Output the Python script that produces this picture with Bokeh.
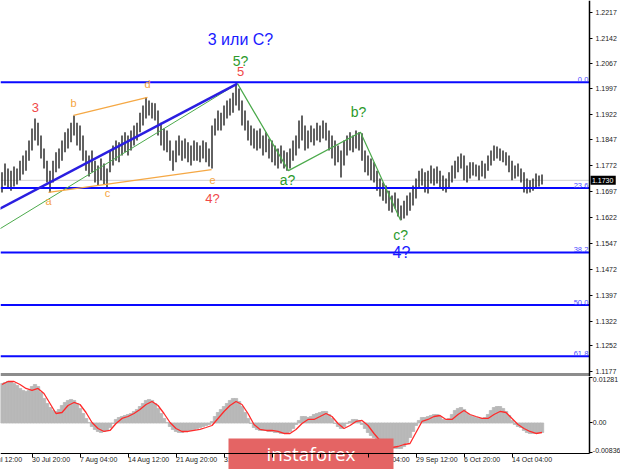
from bokeh.plotting import figure
from bokeh.models import Range1d, FixedTicker, LinearAxis
from bokeh.layouts import column
from bokeh.embed import file_html
from bokeh.resources import INLINE
from bokeh.core.properties import value

# ---------------- data ----------------
high = [
    1.1753, 1.1779, 1.1764, 1.1758, 1.1770, 1.1764, 1.1787, 1.1802, 1.1816, 1.1845,
    1.1880, 1.1909, 1.1897, 1.1860, 1.1822, 1.1787, 1.1758, 1.1787, 1.1811, 1.1822,
    1.1845, 1.1869, 1.1880, 1.1897, 1.1918, 1.1897, 1.1889, 1.1860, 1.1816, 1.1802,
    1.1816, 1.1787, 1.1773, 1.1793, 1.1779, 1.1764, 1.1816, 1.1831, 1.1845, 1.1840,
    1.1860, 1.1869, 1.1860, 1.1874, 1.1889, 1.1897, 1.1926, 1.1947, 1.1970, 1.1961,
    1.1955, 1.1953, 1.1932, 1.1897, 1.1880, 1.1874, 1.1845, 1.1816, 1.1845, 1.1860,
    1.1845, 1.1851, 1.1840, 1.1831, 1.1845, 1.1840, 1.1831, 1.1845, 1.1840, 1.1822,
    1.1889, 1.1909, 1.1932, 1.1926, 1.1947, 1.1961, 1.1967, 1.1984, 1.2010, 1.1996,
    1.1961, 1.1932, 1.1903, 1.1889, 1.1880, 1.1874, 1.1880, 1.1860, 1.1869, 1.1851,
    1.1845, 1.1831, 1.1822, 1.1831, 1.1816, 1.1811, 1.1822, 1.1845, 1.1860, 1.1903,
    1.1918, 1.1889, 1.1874, 1.1889, 1.1880, 1.1897, 1.1889, 1.1903, 1.1897, 1.1874,
    1.1860, 1.1845, 1.1831, 1.1816, 1.1845, 1.1860, 1.1869, 1.1860, 1.1874, 1.1869,
    1.1866, 1.1816, 1.1802, 1.1793, 1.1782, 1.1758, 1.1735, 1.1724, 1.1715, 1.1700,
    1.1686, 1.1695, 1.1677, 1.1657, 1.1671, 1.1686, 1.1695, 1.1715, 1.1735, 1.1758,
    1.1764, 1.1753, 1.1758, 1.1773, 1.1764, 1.1770, 1.1758, 1.1744, 1.1735, 1.1753,
    1.1773, 1.1787, 1.1799, 1.1808, 1.1802, 1.1773, 1.1782, 1.1782, 1.1776, 1.1773,
    1.1787, 1.1779, 1.1802, 1.1816, 1.1831, 1.1828, 1.1822, 1.1816, 1.1811, 1.1802,
    1.1787, 1.1773, 1.1779, 1.1764, 1.1753, 1.1735, 1.1730, 1.1735, 1.1750, 1.1744,
    1.1747,
]
low = [
    1.1695, 1.1715, 1.1706, 1.1700, 1.1712, 1.1718, 1.1730, 1.1747, 1.1758, 1.1787,
    1.1816, 1.1845, 1.1831, 1.1793, 1.1764, 1.1724, 1.1695, 1.1724, 1.1753, 1.1764,
    1.1787, 1.1811, 1.1822, 1.1840, 1.1860, 1.1831, 1.1816, 1.1787, 1.1758, 1.1741,
    1.1753, 1.1724, 1.1715, 1.1730, 1.1718, 1.1706, 1.1753, 1.1773, 1.1787, 1.1782,
    1.1802, 1.1811, 1.1802, 1.1816, 1.1831, 1.1845, 1.1869, 1.1889, 1.1909, 1.1918,
    1.1909, 1.1903, 1.1860, 1.1831, 1.1816, 1.1811, 1.1787, 1.1758, 1.1782, 1.1802,
    1.1787, 1.1793, 1.1782, 1.1773, 1.1787, 1.1787, 1.1782, 1.1793, 1.1782, 1.1770,
    1.1764, 1.1860, 1.1874, 1.1874, 1.1889, 1.1909, 1.1918, 1.1926, 1.1947, 1.1932,
    1.1889, 1.1874, 1.1845, 1.1831, 1.1822, 1.1816, 1.1822, 1.1802, 1.1811, 1.1793,
    1.1782, 1.1773, 1.1764, 1.1779, 1.1764, 1.1758, 1.1764, 1.1787, 1.1802, 1.1822,
    1.1845, 1.1816, 1.1822, 1.1840, 1.1831, 1.1845, 1.1840, 1.1851, 1.1845, 1.1816,
    1.1793, 1.1773, 1.1782, 1.1738, 1.1773, 1.1802, 1.1816, 1.1811, 1.1822, 1.1816,
    1.1787, 1.1753, 1.1744, 1.1730, 1.1724, 1.1700, 1.1683, 1.1671, 1.1663, 1.1642,
    1.1637, 1.1648, 1.1625, 1.1614, 1.1619, 1.1628, 1.1642, 1.1657, 1.1677, 1.1706,
    1.1715, 1.1695, 1.1692, 1.1721, 1.1715, 1.1721, 1.1706, 1.1700, 1.1695, 1.1706,
    1.1724, 1.1735, 1.1753, 1.1764, 1.1730, 1.1724, 1.1735, 1.1744, 1.1741, 1.1730,
    1.1741, 1.1735, 1.1758, 1.1773, 1.1787, 1.1793, 1.1787, 1.1782, 1.1773, 1.1753,
    1.1730, 1.1735, 1.1741, 1.1724, 1.1695, 1.1692, 1.1695, 1.1700, 1.1706, 1.1712,
    1.1718,
]
macd_hist = [
    0.01102, 0.01130, 0.01158, 0.01158, 0.01102, 0.01046, 0.00963, 0.00907, 0.00879, 0.00907,
    0.01018, 0.01074, 0.01018, 0.00851, 0.00684, 0.00544, 0.00432, 0.00349, 0.00321, 0.00377,
    0.00488, 0.00572, 0.00628, 0.00656, 0.00628, 0.00544, 0.00405, 0.00265, 0.00126, 0.00014,
    -0.00098, -0.00181, -0.00237, -0.00265, -0.00237, -0.00209, -0.00126, -0.00014, 0.00098, 0.00153,
    0.00181, 0.00209, 0.00237, 0.00265, 0.00321, 0.00377, 0.00460, 0.00544, 0.00628, 0.00656,
    0.00628, 0.00544, 0.00405, 0.00265, 0.00126, 0.00014, -0.00098, -0.00181, -0.00237, -0.00265,
    -0.00265, -0.00237, -0.00209, -0.00209, -0.00181, -0.00153, -0.00126, -0.00098, -0.00070, -0.00042,
    0.00042, 0.00181, 0.00293, 0.00377, 0.00460, 0.00544, 0.00628, 0.00684, 0.00684, 0.00600,
    0.00460, 0.00293, 0.00126, -0.00014, -0.00126, -0.00181, -0.00209, -0.00209, -0.00209, -0.00237,
    -0.00237, -0.00265, -0.00265, -0.00293, -0.00293, -0.00293, -0.00237, -0.00153, -0.00042, 0.00070,
    0.00181, 0.00181, 0.00153, 0.00181, 0.00237, 0.00265, 0.00293, 0.00321, 0.00321, 0.00237,
    0.00126, -0.00014, -0.00098, -0.00153, -0.00098, -0.00014, 0.00042, 0.00098, 0.00098, 0.00070,
    -0.00042, -0.00153, -0.00265, -0.00349, -0.00405, -0.00488, -0.00544, -0.00600, -0.00656, -0.00684,
    -0.00711, -0.00711, -0.00711, -0.00711, -0.00656, -0.00544, -0.00405, -0.00237, -0.00070, 0.00070,
    0.00153, 0.00153, 0.00181, 0.00209, 0.00237, 0.00237, 0.00181, 0.00098, 0.00070, 0.00126,
    0.00237, 0.00349, 0.00405, 0.00432, 0.00377, 0.00265, 0.00209, 0.00181, 0.00153, 0.00126,
    0.00126, 0.00153, 0.00237, 0.00349, 0.00432, 0.00460, 0.00460, 0.00405, 0.00321, 0.00209,
    0.00070, -0.00042, -0.00098, -0.00126, -0.00209, -0.00265, -0.00293, -0.00293, -0.00293, -0.00265,
    -0.00265,
]
macd_signal = [
    0.01074, 0.01158, 0.01158, 0.01074, 0.00963, 0.00907, 0.00963, 0.00823, 0.00544, 0.00265,
    0.00293, 0.00488, 0.00572, 0.00516, 0.00293, 0.00014, -0.00153, -0.00237, -0.00209, -0.00014,
    0.00126, 0.00181, 0.00265, 0.00377, 0.00516, 0.00600, 0.00488, 0.00265, 0.00014, -0.00153,
    -0.00237, -0.00237, -0.00209, -0.00181, -0.00126, -0.00070, 0.00126, 0.00321, 0.00488, 0.00600,
    0.00516, 0.00265, -0.00042, -0.00181, -0.00209, -0.00209, -0.00237, -0.00293, -0.00293, -0.00181,
    -0.00014, 0.00098, 0.00098, 0.00181, 0.00265, 0.00181, -0.00014, -0.00153, -0.00070, 0.00042,
    0.00070, -0.00070, -0.00293, -0.00488, -0.00628, -0.00684, -0.00656, -0.00600, -0.00572, -0.00265,
    0.00042, 0.00098, 0.00181, 0.00209, 0.00098, 0.00098, 0.00237, 0.00349, 0.00237, 0.00181,
    0.00126, 0.00126, 0.00237, 0.00321, 0.00293, 0.00126, -0.00042, -0.00153, -0.00237, -0.00293,
    -0.00265,
]
last_price = 1.1730
last_price_label = "1.1730"

price_ticks = [1.2217, 1.2142, 1.2067, 1.1997, 1.1922, 1.1847, 1.1772, 1.1697,
               1.1622, 1.1547, 1.1472, 1.1397, 1.1322, 1.1252, 1.1177]
price_tick_labels = ["1.2217", "1.2142", "1.2067", "1.1997", "1.1922", "1.1847", "1.1772", "1.1697",
                     "1.1622", "1.1547", "1.1472", "1.1397", "1.1322", "1.1252", "1.1177"]

fib_levels = ["0.0", "23.6", "38.2", "50.0", "61.8"]
fib_prices = [1.2014, 1.1708, 1.1521, 1.1369, 1.1220]

macd_ticks = [0.01281, 0.0, -0.00836]
macd_tick_labels = ["0.01281", "0.00", "-0.00836"]
macd_min, macd_max = -0.00851, 0.01297

date_tick_bars = [-12, 20, 52, 84, 116, 148, 180, 212, 244, 276, 308, 340]
date_tick_labels = ["23 Jul 12:00", "30 Jul 20:00", "7 Aug 04:00", "14 Aug 12:00", "21 Aug 20:00",
                    "31 Aug 04:00", "7 Sep 12:00", "14 Sep 20:00", "22 Sep 04:00", "29 Sep 12:00",
                    "6 Oct 20:00", "14 Oct 04:00"]

# wave-count drawing points (bar number, price)
blue_trend_x = [-14, 157]
blue_trend_y = [1.1619, 1.2010]
green_trend_x = [-14, 157]
green_trend_y = [1.1556, 1.2010]
green_zigzag_x = [157, 191, 239, 265.7]
green_zigzag_y = [1.2010, 1.1758, 1.1869, 1.1614]
orange_top_x = [47.7, 97]
orange_top_y = [1.1918, 1.1970]
orange_bot_x = [31, 139.7]
orange_bot_y = [1.1695, 1.1761]

blue_text = ["3 или С?", "4?"]
blue_text_x = [159, 266.3]
blue_text_y = [1.2138, 1.1521]
green_text = ["5?", "a?", "b?", "c?"]
green_text_x = [159, 190.3, 237.7, 265.7]
green_text_y = [1.2077, 1.1730, 1.1929, 1.1573]
red_text = ["3", "5", "4?"]
red_text_x = [22.3, 159, 140.3]
red_text_y = [1.1941, 1.2045, 1.1677]
orange_text = ["a", "b", "c", "d", "e"]
orange_text_x = [31, 47.7, 70.3, 97, 140.3]
orange_text_y = [1.1669, 1.1955, 1.1692, 1.2010, 1.1730]

bars = [2 * i for i in range(len(high))]
sig_bars = [4 * i for i in range(len(macd_signal))]

# ---------------- layout (1 bar = 1.5 px) ----------------
W = 620
H1 = 376
H2 = 93
PX = 1.5
XL = -1.0
XR = W / PX - 1
XAX = 589 / PX - 1          # bar coordinate of the price scale line
PPP = 0.0002897             # price per pixel
MPP = 0.000279              # macd per pixel
FONT = "Liberation Sans"
AX_COL = "#222222"

xr = Range1d(XL, XR)
p = figure(width=W, height=H1, x_range=xr, y_range=Range1d(1.22509 - H1 * PPP, 1.22509),
           output_backend="svg", toolbar_location=None,
           x_axis_location=None, y_axis_location=None,
           min_border_left=0, min_border_right=0, min_border_top=0, min_border_bottom=0)
p.outline_line_color = None
p.grid.visible = False

pax = LinearAxis(fixed_location=XAX, ticker=FixedTicker(ticks=price_ticks),
                 major_label_overrides={t: s for t, s in zip(price_ticks, price_tick_labels)},
                 major_label_text_font=FONT, major_label_text_font_size="7px",
                 major_label_text_color=AX_COL, major_label_standoff=3,
                 major_tick_out=3, major_tick_in=0, minor_tick_out=0, minor_tick_in=0,
                 axis_line_color="black", axis_line_width=1.5, major_tick_line_color="black")
p.add_layout(pax, "right")

# current price line (under bars)
p.segment(x0=[XL], y0=[last_price], x1=[XAX], y1=[last_price], line_color="#cfcfcf", line_width=1)

# price bars
p.segment(x0=bars, y0=low, x1=bars, y1=high, line_color="#2e2e2e", line_width=1.5)

# fibonacci levels
p.segment(x0=[XL] * len(fib_prices), y0=fib_prices, x1=[XAX] * len(fib_prices), y1=fib_prices,
          line_color="#0a0aff", line_width=2)
p.text(x=[XAX - 0.8] * len(fib_prices), y=fib_prices, text=fib_levels,
       text_font=value(FONT), text_font_size="7.5px", text_color="#4a4aff",
       text_align="right", text_baseline="bottom")

# wave lines
p.line(green_trend_x, green_trend_y, line_color="#4caa4c", line_width=1)
p.line(blue_trend_x, blue_trend_y, line_color="#2a1ee0", line_width=2.6)
p.line(green_zigzag_x, green_zigzag_y, line_color="#4caa4c", line_width=1.2)
p.line(orange_top_x, orange_top_y, line_color="#f5a844", line_width=1.3)
p.line(orange_bot_x, orange_bot_y, line_color="#f5a844", line_width=1.3)

# wave labels
p.text(x=blue_text_x, y=blue_text_y, text=blue_text, text_font=value(FONT),
       text_font_size="16px", text_color="#1a1aff", text_align="center", text_baseline="middle")
p.text(x=green_text_x, y=green_text_y, text=green_text, text_font=value(FONT),
       text_font_size="14px", text_color="#2c9a2c", text_align="center", text_baseline="middle")
p.text(x=red_text_x, y=red_text_y, text=red_text, text_font=value(FONT),
       text_font_size="13px", text_color="#f04848", text_align="center", text_baseline="middle")
p.text(x=orange_text_x, y=orange_text_y, text=orange_text, text_font=value(FONT),
       text_font_size="11px", text_color="#f5a540", text_align="center", text_baseline="middle")

# separator band between the panes
p.quad(left=[XL], right=[XAX], bottom=[1.22509 - H1 * PPP], top=[1.22509 - 372.5 * PPP],
       fill_color="#8c8c8c", line_color=None)

# last-price box on the scale
p.quad(left=[XAX + 0.7], right=[XAX + 17.5], bottom=[last_price - 4.5 * PPP],
       top=[last_price + 4.5 * PPP], fill_color="black", line_color=None)
p.text(x=[XAX + 1.6], y=[last_price], text=[last_price_label], text_font=value(FONT),
       text_font_size="7px", text_color="white", text_align="left", text_baseline="middle")

# ---------------- MACD pane ----------------
q = figure(width=W, height=H2, x_range=xr, y_range=Range1d(macd_max - H2 * MPP, macd_max),
           output_backend="svg", toolbar_location=None,
           x_axis_location=None, y_axis_location=None,
           min_border_left=0, min_border_right=0, min_border_top=0, min_border_bottom=0)
q.outline_line_color = None
q.grid.visible = False

q.vbar(x=bars, top=macd_hist, bottom=0, width=2.25, fill_color="#b8b8b8",
       line_color="#b8b8b8", line_width=0.8)
q.line(sig_bars, macd_signal, line_color="#ff2a2a", line_width=1.3)

qy = LinearAxis(fixed_location=XAX, ticker=FixedTicker(ticks=macd_ticks),
                major_label_overrides={t: "" for t in macd_ticks}, bounds=(macd_min, macd_max),
                major_tick_out=3, major_tick_in=0, minor_tick_out=0, minor_tick_in=0,
                axis_line_color="black", axis_line_width=1.5, major_tick_line_color="black")
q.add_layout(qy, "right")
q.text(x=[XAX + 2.2] * 3, y=macd_ticks, text=macd_tick_labels, text_font=value(FONT),
       text_font_size="7px", text_color=AX_COL, text_align="left",
       text_baseline=["top", "middle", "bottom"])

qx = LinearAxis(fixed_location=macd_min, ticker=FixedTicker(ticks=date_tick_bars),
                major_label_overrides={t: "" for t in date_tick_bars}, bounds=(XL, XAX),
                major_tick_out=4, major_tick_in=0, minor_tick_out=0, minor_tick_in=0,
                axis_line_color="black", major_tick_line_color="black")
q.add_layout(qx, "below")
q.text(x=date_tick_bars, y=[macd_min - 2.5 * MPP] * len(date_tick_bars), text=date_tick_labels,
       text_font=value(FONT), text_font_size="7px", text_color=AX_COL,
       text_align="left", text_baseline="top")

# instaforex badge
q.quad(left=[228 / PX - 1], right=[393 / PX - 1], bottom=[macd_max - 100 * MPP],
       top=[macd_max - 62 * MPP], fill_color="#e46464", line_color=None)
q.text(x=[310.5 / PX - 1], y=[macd_max - 77 * MPP], text=["instaforex"],
       text_font=value("Open Sans"), text_font_size="19px", text_color="white",
       text_align="center", text_baseline="middle")

layout = column(p, q)
open("out.html", "w").write(file_html(layout, INLINE))
